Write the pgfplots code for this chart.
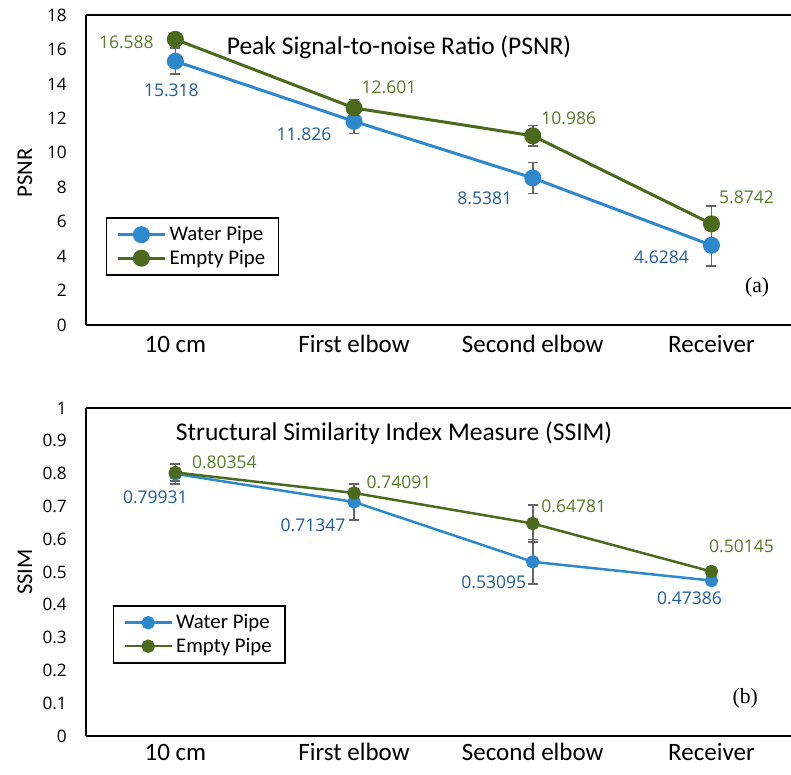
\documentclass[border=0pt]{standalone}
\usepackage{fontspec}
\setmainfont{Carlito}
\newfontfamily\numfont{Open Sans}
\newfontfamily\serffont{Liberation Serif}
\usepackage{pgfplots}
\pgfplotsset{compat=1.18}

\definecolor{wblue}{HTML}{2E88CC}
\definecolor{egreen}{HTML}{4B6A1D}
\definecolor{lblue}{HTML}{1F5C99}
\definecolor{lgreen}{HTML}{5A7A2A}
\definecolor{errgray}{HTML}{666666}

\tikzset{vlab/.style={font=\numfont\fontsize{10.5}{12}\selectfont}}
\pgfplotsset{
  panel/.style={
    scale only axis, width=423pt, xmin=-0.5, xmax=3.445,
    axis x line*=box, axis y line*=left,
    axis line style={-, black, line width=1.1pt},
    xtick={0,1,2,3}, xticklabels={10 cm, First elbow, Second elbow, Receiver},
    major tick length=0pt,
    xticklabel style={font=\fontsize{15}{17}\selectfont, anchor=base, inner sep=0pt},
    yticklabel style={font=\numfont\fontsize{10.3}{12}\selectfont, xshift=-8pt},
    /pgf/number format/assume math mode=true,
    clip=false,
    legend cell align=left,
    legend style={draw=black, line width=1pt, font=\fontsize{12.5}{14}\selectfont,
      inner xsep=6pt, inner ysep=3pt, row sep=0pt},
    legend image code/.code={\draw[mark repeat=2,mark phase=2,##1] plot coordinates {(0pt,0pt)(14pt,0pt)(28pt,0pt)};},
    error bars/y dir=both, error bars/y explicit,
    error bars/error bar style={errgray, line width=1pt},
    error bars/error mark options={rotate=90, errgray, mark size=3pt, line width=1pt},
  },
}

\begin{document}
\begin{tikzpicture}
\useasboundingbox (0,0) rectangle (474.6pt,464.4pt);

% (a) PSNR
\begin{axis}[panel, at={(51.6pt,269.4pt)}, anchor=south west, height=186pt,
  ymin=0, ymax=18, ytick={0,2,4,6,8,10,12,14,16,18},
  xticklabel style={yshift=-16.8pt},
  legend style={at={(0.028,0.348)}, anchor=north west}]
\addplot[wblue, line width=1.8pt, mark=*, mark size=4.2pt, mark options={solid, fill=wblue, draw=wblue}]
  coordinates {(0,15.318) +- (0,0.75) (1,11.826) +- (0,0.7) (2,8.5381) +- (0,0.9) (3,4.6284) +- (0,1.2)};
\addplot[egreen, line width=1.8pt, mark=*, mark size=4.2pt, mark options={solid, fill=egreen, draw=egreen}]
  coordinates {(0,16.588) +- (0,0.3) (1,12.601) +- (0,0.5) (2,10.986) +- (0,0.6) (3,5.8742) +- (0,1.05)};
\legend{Water Pipe, Empty Pipe}
\node[vlab, lgreen] at ([xshift=-29.4pt,yshift=-1.6pt]axis cs:0,16.588) {16.588};
\node[vlab, lblue]  at ([xshift=-2.4pt,yshift=-17.4pt]axis cs:0,15.318) {15.318};
\node[vlab, lgreen] at ([xshift=21pt,yshift=12.6pt]axis cs:1,12.601) {12.601};
\node[vlab, lblue]  at ([xshift=-30pt,yshift=-7.8pt]axis cs:1,11.826) {11.826};
\node[vlab, lgreen] at ([xshift=21.6pt,yshift=10.8pt]axis cs:2,10.986) {10.986};
\node[vlab, lblue]  at ([xshift=-28.8pt,yshift=-12pt]axis cs:2,8.5381) {8.5381};
\node[vlab, lgreen] at ([xshift=21pt,yshift=16.2pt]axis cs:3,5.8742) {5.8742};
\node[vlab, lblue]  at ([xshift=-30pt,yshift=-7.2pt]axis cs:3,4.6284) {4.6284};
\node[font=\fontsize{15.3}{17}\selectfont] at (rel axis cs:0.444,0.894) {Peak Signal-to-noise Ratio (PSNR)};
\node[font=\serffont\fontsize{13}{15}\selectfont] at (rel axis cs:0.952,0.123) {(a)};
\node[rotate=90, font=\fontsize{13.5}{15}\selectfont] at ([xshift=-36.6pt]rel axis cs:0,0.49) {PSNR};
\end{axis}

% (b) SSIM
\begin{axis}[panel, at={(51.6pt,22.8pt)}, anchor=south west, height=196.8pt,
  ymin=0, ymax=1, ytick={0,0.1,0.2,0.3,0.4,0.5,0.6,0.7,0.8,0.9,1},
  xticklabel style={yshift=-14.4pt},
  legend style={at={(0.038,0.399)}, anchor=north west}]
\addplot[wblue, line width=1.5pt, mark=*, mark size=3.3pt, mark options={solid, fill=wblue, draw=wblue}]
  coordinates {(0,0.79931) +- (0,0.031) (1,0.71347) +- (0,0.055) (2,0.53095) +- (0,0.068) (3,0.47386) +- (0,0.005)};
\addplot[egreen, line width=1.5pt, mark=*, mark size=3.3pt, mark options={solid, fill=egreen, draw=egreen}]
  coordinates {(0,0.80354) +- (0,0.026) (1,0.74091) +- (0,0.027) (2,0.64781) +- (0,0.057) (3,0.50145) +- (0,0.005)};
\legend{Water Pipe, Empty Pipe}
\node[vlab, lgreen] at ([xshift=29.4pt,yshift=6pt]axis cs:0,0.80354) {0.80354};
\node[vlab, lblue]  at ([xshift=-12pt,yshift=-13.8pt]axis cs:0,0.79931) {0.79931};
\node[vlab, lgreen] at ([xshift=27pt,yshift=6.6pt]axis cs:1,0.74091) {0.74091};
\node[vlab, lblue]  at ([xshift=-24.6pt,yshift=-13.8pt]axis cs:1,0.71347) {0.71347};
\node[vlab, lgreen] at ([xshift=24.6pt,yshift=10.2pt]axis cs:2,0.64781) {0.64781};
\node[vlab, lblue]  at ([xshift=-23.4pt,yshift=-12pt]axis cs:2,0.53095) {0.53095};
\node[vlab, lgreen] at ([xshift=18pt,yshift=15pt]axis cs:3,0.50145) {0.50145};
\node[vlab, lblue]  at ([xshift=-13.2pt,yshift=-10.8pt]axis cs:3,0.47386) {0.47386};
\node[font=\fontsize{15.3}{17}\selectfont] at (rel axis cs:0.437,0.924) {Structural Similarity Index Measure (SSIM)};
\node[font=\serffont\fontsize{13}{15}\selectfont] at (rel axis cs:0.935,0.116) {(b)};
\node[rotate=90, font=\fontsize{13.5}{15}\selectfont] at ([xshift=-36.6pt]rel axis cs:0,0.5) {SSIM};
\end{axis}
\end{tikzpicture}
\end{document}
